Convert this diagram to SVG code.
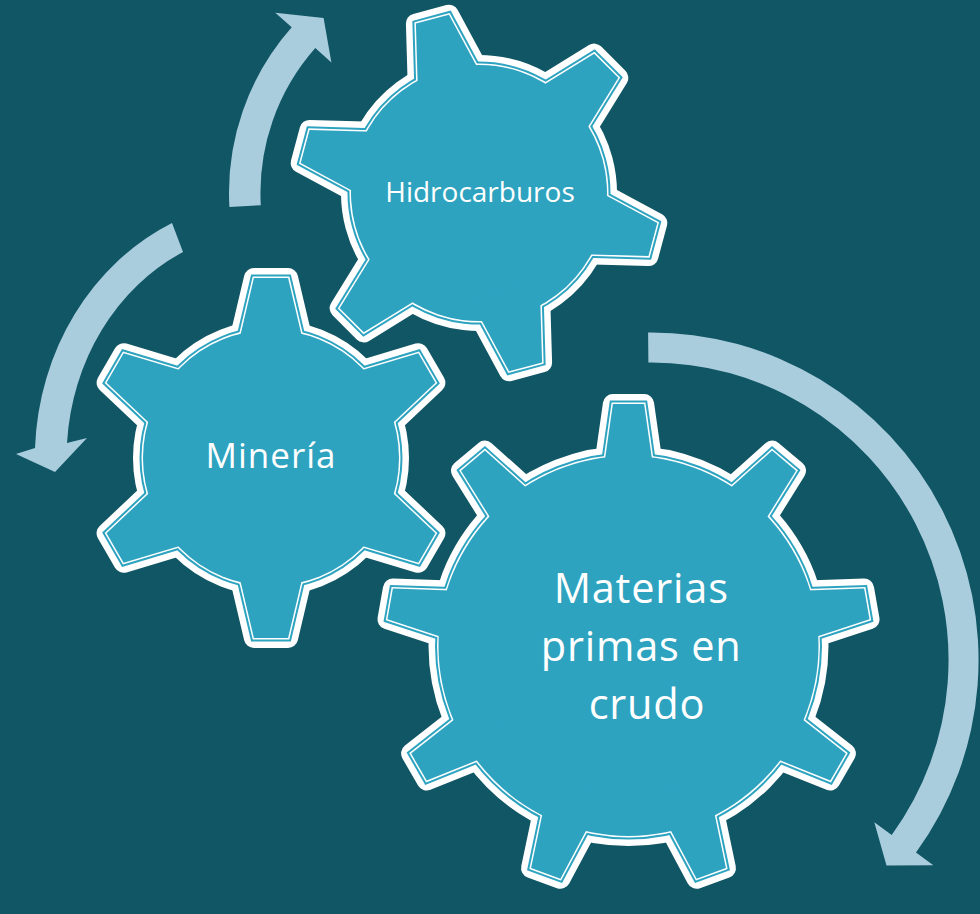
<svg xmlns="http://www.w3.org/2000/svg" width="980" height="914" viewBox="0 0 980 914">
  <style>
    .bg { fill: #115665; }
    .arrow { fill: #AACDDD; stroke: none; }
    .l1 { fill: #ffffff; stroke: #ffffff; stroke-width: 20; stroke-linejoin: round; }
    .l2 { fill: #2EA3C0; stroke: #2EA3C0; stroke-width: 7; stroke-linejoin: miter; }
    .l3 { fill: #ffffff; stroke: #ffffff; stroke-width: 3; stroke-linejoin: miter; }
    .l4 { fill: #2EA3C0; stroke: none; }
    .label { fill: #ffffff; font-family: "Open Sans", "Noto Sans", sans-serif; text-anchor: middle; }
  </style>
  <defs>
    <polygon id="t6" points="-17.1,-180 17.1,-180 36,-100 -36,-100"/>
    <polygon id="t9" points="-15.6,-242 15.6,-242 28.75,-150 -28.75,-150"/>
    <g id="g6">
      <circle r="128"/>
      <use href="#t6"/>
      <use href="#t6" transform="rotate(60)"/>
      <use href="#t6" transform="rotate(120)"/>
      <use href="#t6" transform="rotate(180)"/>
      <use href="#t6" transform="rotate(240)"/>
      <use href="#t6" transform="rotate(300)"/>
    </g>
    <g id="g9">
      <circle r="190"/>
      <use href="#t9"/>
      <use href="#t9" transform="rotate(40)"/>
      <use href="#t9" transform="rotate(80)"/>
      <use href="#t9" transform="rotate(120)"/>
      <use href="#t9" transform="rotate(160)"/>
      <use href="#t9" transform="rotate(200)"/>
      <use href="#t9" transform="rotate(240)"/>
      <use href="#t9" transform="rotate(280)"/>
      <use href="#t9" transform="rotate(320)"/>
    </g>
  </defs>

  <rect class="bg" x="0" y="0" width="980" height="914"/>

  <g id="connectors">
    <path id="arrow-hidrocarburos" class="arrow" d="M229.4,207 A250,250 0 0,1 291.7,27.2 L275.3,12.7 L323.6,18 L331.4,62.4 L315.3,48.1 A218.5,218.5 0 0,0 260.8,205.2 Z"/>
    <path id="arrow-mineria" class="arrow" d="M172,223 A236,259 0 0,0 35,448 L16,454 L55,472 L87,438 L67,443 A204.6,228 0 0,1 183,252 Z"/>
    <path id="arrow-materias" class="arrow" d="M648.1,332.5 A327.5,327.5 0 0,1 916,852.5 L933.3,865.2 L886.5,865.4 L874.3,822.3 L891.7,834.9 A297.5,297.5 0 0,0 648.4,362.5 Z"/>
  </g>

  <g id="node-hidrocarburos">
    <g transform="translate(479,193) rotate(-15)">
      <use href="#g6" class="l1"/>
      <use href="#g6" class="l2"/>
      <use href="#g6" class="l3"/>
      <use href="#g6" class="l4"/>
    </g>
    <text class="label" x="480" y="202" font-size="28">Hidrocarburos</text>
  </g>

  <g id="node-mineria">
    <g transform="translate(271,458)">
      <use href="#g6" class="l1"/>
      <use href="#g6" class="l2"/>
      <use href="#g6" class="l3"/>
      <use href="#g6" class="l4"/>
    </g>
    <text class="label" x="271" y="468" font-size="35" letter-spacing="1">Minería</text>
  </g>

  <g id="node-materias">
    <g transform="translate(628.5,646)">
      <use href="#g9" class="l1"/>
      <use href="#g9" class="l2"/>
      <use href="#g9" class="l3"/>
      <use href="#g9" class="l4"/>
    </g>
    <text class="label" font-size="41.5" letter-spacing="0.8">
      <tspan x="647" y="603">Materias</tspan>
      <tspan x="647" y="661">primas en</tspan>
      <tspan x="647" y="719">crudo</tspan>
    </text>
  </g>
</svg>
